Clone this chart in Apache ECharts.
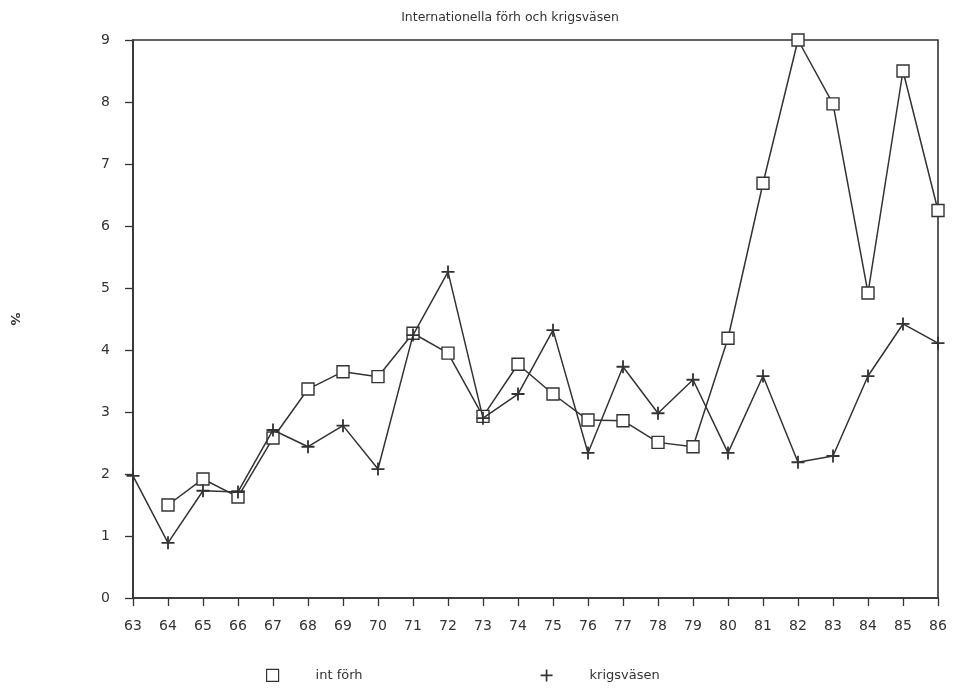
<!DOCTYPE html>
<html>
<head>
<meta charset="utf-8">
<script src="https://cdn.jsdelivr.net/npm/echarts@6/dist/echarts.min.js"></script>
<style>
  html, body { margin: 0; padding: 0; background: #fff; }
  #chart { width: 953px; height: 689px; }
</style>
</head>
<body>
<div id="chart"></div>
<script>
// years 1963-1986
var years = ['63','64','65','66','67','68','69','70','71','72','73','74','75','76','77','78','79','80','81','82','83','84','85','86'];
var intForh = ['-', 1.5, 1.92, 1.63, 2.58, 3.37, 3.65, 3.57, 4.27, 3.95, 2.93, 3.77, 3.29, 2.87, 2.86, 2.51, 2.44, 4.19, 6.69, 9.0, 7.97, 4.92, 8.5, 6.25];
var krigsvasen = [1.97, 0.89, 1.73, 1.71, 2.71, 2.44, 2.78, 2.08, 4.24, 5.26, 2.9, 3.29, 4.32, 2.34, 3.73, 2.98, 3.52, 2.34, 3.58, 2.19, 2.29, 3.58, 4.42, 4.11];

var ink = '#333';
var plusPath = 'path://M4.3,0H5.7V4.3H10V5.7H5.7V10H4.3V5.7H0V4.3H4.3Z';

var chartDom = document.getElementById('chart');
var myChart = echarts.init(chartDom);
var option = {
    backgroundColor: '#fff',
    animation: false,
    textStyle: { fontFamily: 'DejaVu Sans', color: ink },
    title: {
        text: 'Internationella förh och krigsväsen',
        left: 505,
        textAlign: 'center',
        top: 6,
        textStyle: { fontSize: 12.5, fontWeight: 'normal', color: ink, fontFamily: 'DejaVu Sans' }
    },
    legend: {
        bottom: 2,
        left: 261,
        itemGap: 178,
        itemWidth: 12,
        itemHeight: 12,
        textStyle: { fontSize: 13, color: ink, padding: [0, 0, 0, 32] },
        data: [
            { name: 'int förh', icon: 'rect', itemStyle: { color: '#fff', borderColor: ink, borderWidth: 1.2 } },
            { name: 'krigsväsen', icon: plusPath, itemStyle: { color: ink, borderWidth: 0 } }
        ]
    },
    grid: {
        left: 131, right: 15, top: 40, bottom: 91,
        show: true, borderColor: ink, borderWidth: 1.6, backgroundColor: '#fff'
    },
    xAxis: {
        type: 'category',
        data: years,
        boundaryGap: false,
        axisLine: { lineStyle: { color: ink, width: 1.6 } },
        axisTick: { show: true, inside: false, length: 8, alignWithLabel: true, lineStyle: { color: ink, width: 1.3 } },
        axisLabel: { fontSize: 14, color: ink, margin: 21, interval: 0 },
        splitLine: { show: false }
    },
    yAxis: {
        type: 'value',
        min: 0, max: 9, interval: 1,
        name: '%',
        nameLocation: 'middle',
        nameGap: 112,
        nameRotate: -90,
        nameTextStyle: { fontSize: 13, color: ink, fontWeight: 'bold' },
        axisLine: { show: true, lineStyle: { color: ink, width: 1.6 } },
        axisTick: { show: true, length: 8, lineStyle: { color: ink, width: 1.3 } },
        axisLabel: { fontSize: 14, color: ink, margin: 23 },
        splitLine: { show: false }
    },
    series: [
        {
            name: 'int förh',
            type: 'line',
            data: intForh,
            symbol: 'rect',
            symbolSize: 12,
            showAllSymbol: true,
            lineStyle: { color: ink, width: 1.5 },
            itemStyle: { color: '#fff', borderColor: ink, borderWidth: 1.4 },
            z: 3
        },
        {
            name: 'krigsväsen',
            type: 'line',
            data: krigsvasen,
            symbol: plusPath,
            symbolSize: 13,
            showAllSymbol: true,
            lineStyle: { color: ink, width: 1.5 },
            itemStyle: { color: ink, borderWidth: 0 },
            z: 4
        }
    ]
};
option && myChart.setOption(option);
</script>
</body>
</html>
